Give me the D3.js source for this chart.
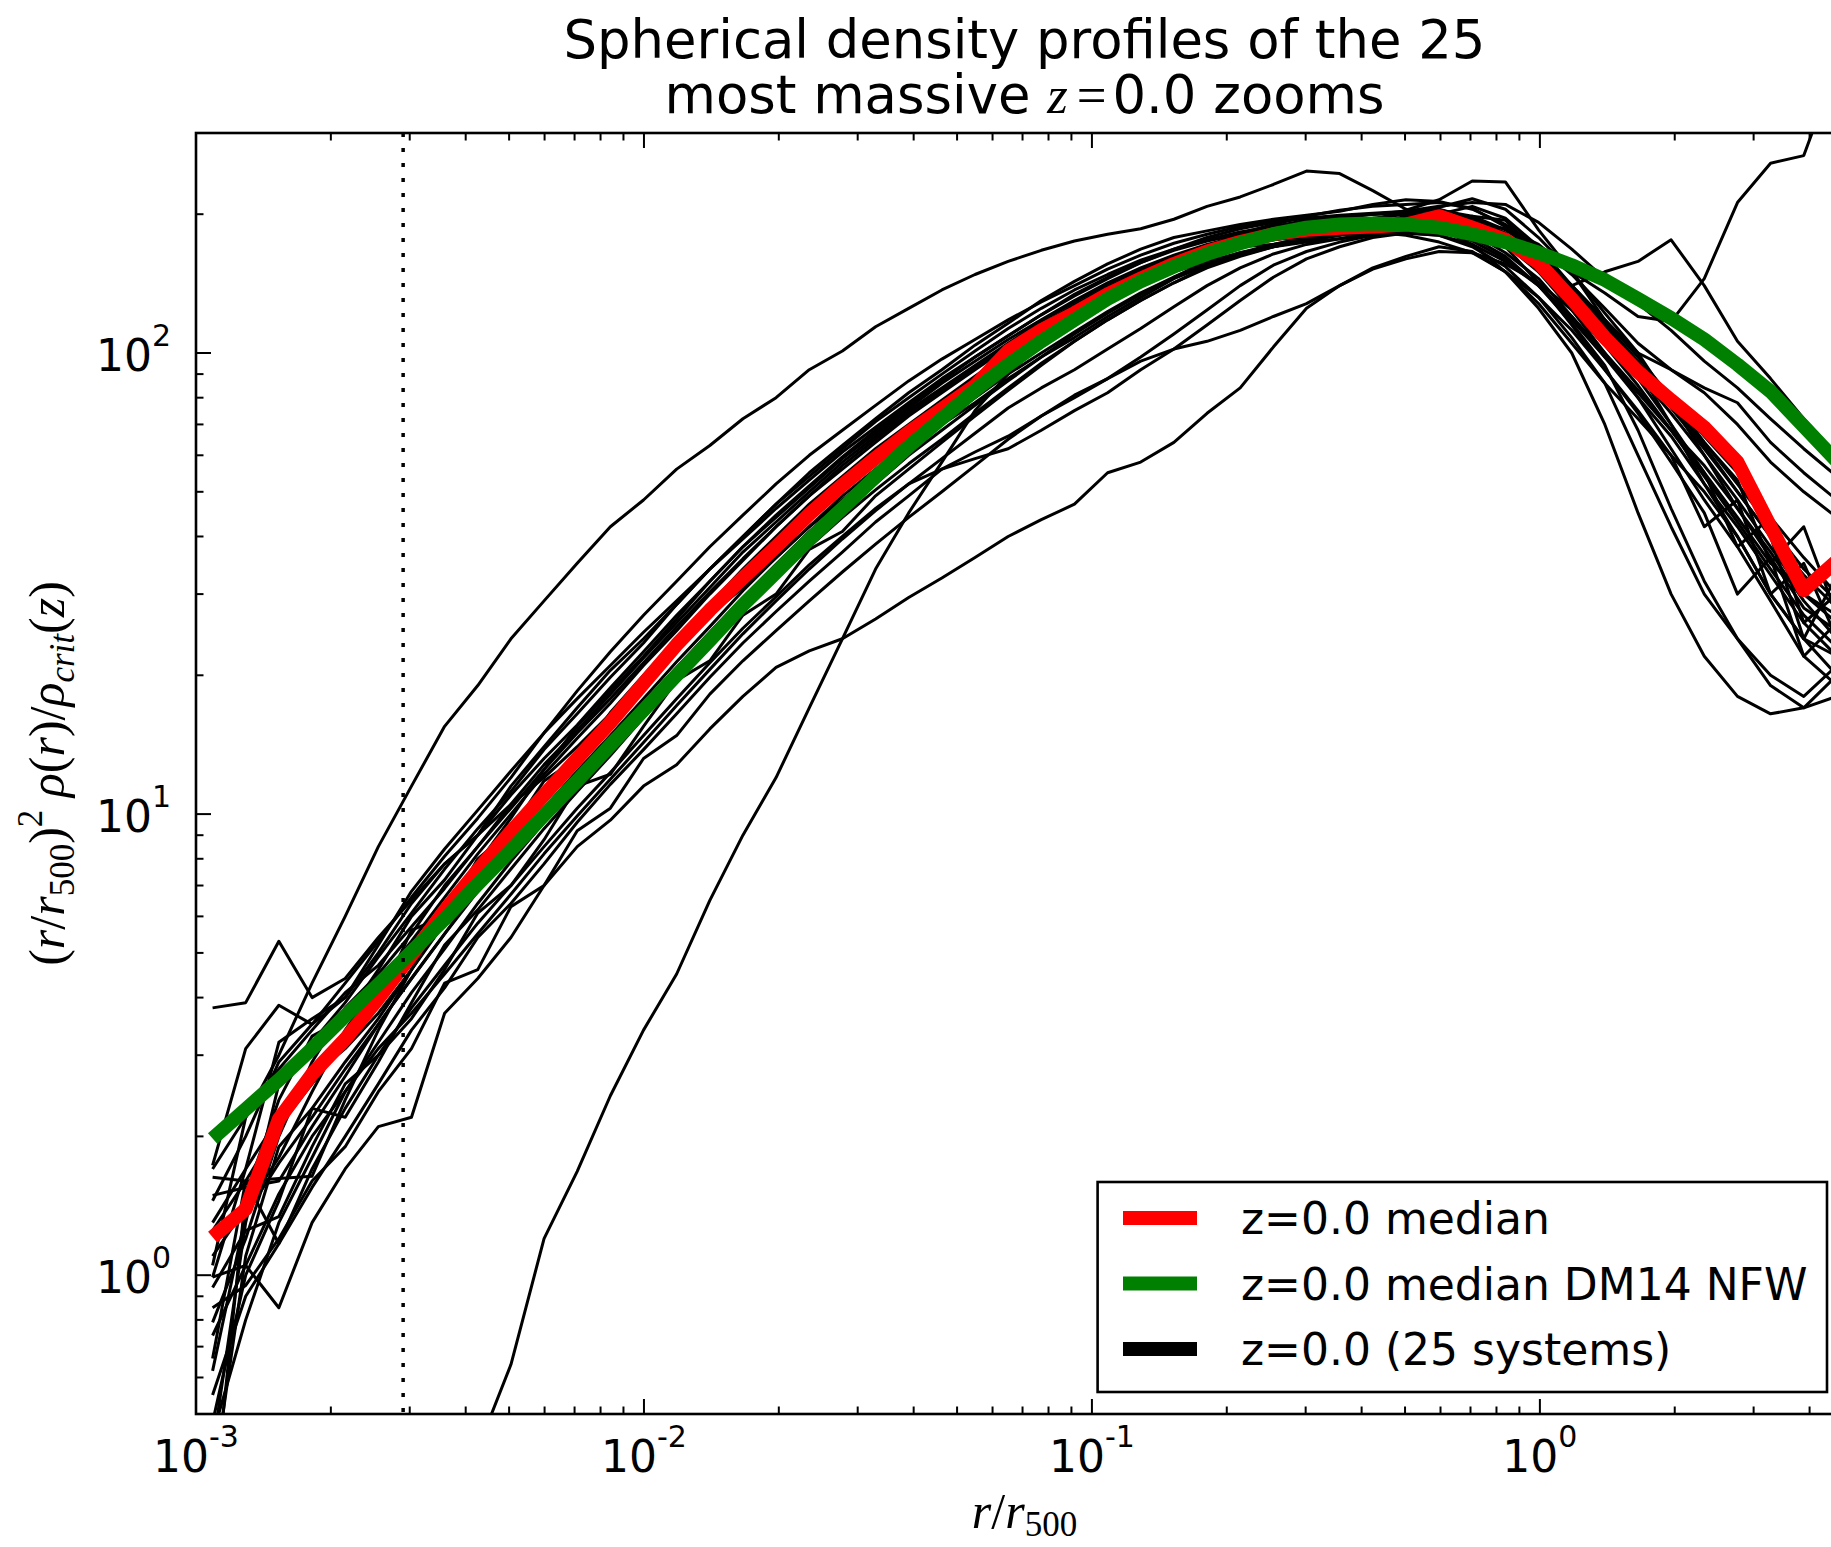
<html>
<head>
<script src="https://d3js.org/d3.v7.min.js"></script>
<style>
body { margin: 0; background: white; }
</style>
</head>
<body>
<script>
// radial bins (r / r500), bin centres
var radius = [0.001089, 0.001291, 0.001531, 0.001816, 0.002153, 0.002553, 0.003027, 0.003589, 0.004256, 0.005047,
  0.005984, 0.007096, 0.008414, 0.009977, 0.01183, 0.01403, 0.01663, 0.01972, 0.02339, 0.02773,
  0.03289, 0.03899, 0.04624, 0.05483, 0.06501, 0.07709, 0.09141, 0.1084, 0.1285, 0.1524,
  0.1807, 0.2143, 0.2541, 0.3013, 0.3573, 0.4236, 0.5023, 0.5957, 0.7063, 0.8375,
  0.9931, 1.178, 1.396, 1.656, 1.963, 2.328, 2.761, 3.273, 3.882, 4.603];

var median = [1.21, 1.39, 2.18, 2.73, 3.25, 3.98, 4.94, 6.17, 7.56, 9.16,
  11.0, 13.2, 15.8, 19.2, 23.3, 27.7, 32.5, 38, 44.7, 51.7,
  59.2, 67.3, 75.6, 84.9, 101, 112, 122, 134, 145, 156,
  166, 174, 181, 185, 187, 188, 190, 198, 187, 176,
  157, 131, 108, 91, 79, 69, 58, 42, 30.6, 35.4];

var nfw = [1.98, 2.29, 2.65, 3.10, 3.65, 4.27, 5.03, 5.92, 7.05, 8.35,
  9.94, 11.8, 14.1, 16.8, 20.0, 23.8, 28.4, 33.4, 39.4, 46.0,
  53.9, 62.7, 72.1, 83.0, 94.3, 106, 118, 131, 143, 154,
  164, 173, 181, 187, 190, 191, 190, 187, 181, 174,
  165, 155, 144, 131, 119, 107, 94.4, 82.5, 69.3, 58.2];

// the 25 individual systems
var sys01 = [1.7, 2.2, 3.0, 4.3, 6.0, 8.5, 11.5, 15.5, 19, 24, 29, 35, 42, 48, 56, 63, 72, 80, 92, 101,
  114, 125, 137, 148, 158, 167, 175, 181, 186, 195, 208, 218, 232, 248, 245, 225, 205, 195, 188, 178,
  160, 135, 112, 95, 80, 66, 55, 44, 36, 30];
var sys02 = [3.8, 3.9, 5.3, 4.0, 4.4, 5.4, 6.5, 7.8, 9.0, 10.5, 12, 14, 16.5, 19.5, 23, 27, 31, 36, 42, 48,
  55, 62, 70, 78, 88, 98, 108, 120, 132, 145, 155, 163, 170, 176, 180, 183, 186, 184, 175, 160,
  140, 118, 98, 82, 68, 57, 46, 37, 29, 24];
var sys03 = [null, null, null, null, null, null, null, 0.3, 0.42, 0.64, 1.2, 1.68, 2.45, 3.4, 4.5, 6.5, 9.0, 12, 17, 24,
  34, 45, 58, 75, 90, 105, 120, 134, 147, 158, 168, 176, 182, 186, 190, 193, 195, 192, 182, 165,
  145, 120, 98, 80, 66, 52, 42, 33, 26, 22];
var sys04 = [0.99, 1.05, 0.85, 1.3, 1.7, 2.1, 2.2, 3.7, 4.4, 5.4, 7.0, 8.5, 9.7, 11.5, 12.8, 15.3, 18, 20.8, 22.6, 24,
  26.5, 29.5, 32.5, 36, 40, 43.5, 47, 55, 58, 64, 74, 84, 103, 125, 140, 153, 162, 170, 166, 150,
  128, 105, 86, 72, 60, 50, 40, 30, 24, 20];
var sys05 = [1.45, 2.0, 2.9, 3.5, 4.3, 5.3, 6.6, 8.1, 9.8, 12, 15, 18.5, 22.5, 27, 32, 38, 44.5, 52, 60, 68,
  77, 87, 97, 107, 118, 129, 140, 152, 163, 173, 181, 188, 193, 196, 198, 200, 202, 204, 198, 185,
  165, 140, 118, 98, 80, 64, 52, 42, 34, 29];
var sys06 = [0.99, 1.7, 3.2, 3.6, 4.0, 5.0, 6.4, 7.8, 9.0, 11.5, 14, 17, 20.5, 24, 28.5, 34, 40, 47, 55, 63,
  72, 82, 92, 104, 116, 130, 143, 156, 168, 178, 184, 190, 195, 199, 203, 210, 215, 213, 205, 190,
  170, 148, 125, 105, 92, 82, 70, 58, 50, 44];
var sys07 = [0.42, 1.3, 2.6, 3.2, 3.9, 4.9, 6.1, 7.6, 9.3, 11.2, 13.8, 16.5, 19.8, 23.5, 28.5, 34, 40, 47, 54, 62,
  71, 80, 90, 101, 113, 125, 137, 148, 159, 168, 176, 183, 188, 191, 193, 196, 200, 207, 216, 205,
  178, 150, 122, 100, 78, 60, 46, 36, 28, 25];
var sys08 = [1.63, 1.6, 1.62, 1.64, 2.4, 3.4, 4.6, 6.2, 7.8, 9.8, 12.5, 15.5, 18.5, 22, 26.5, 32, 38, 44.5, 51.5, 59.5,
  68, 77, 87, 98, 109, 121, 134, 146, 157, 167, 175, 181, 185, 188, 190, 194, 204, 215, 236, 235,
  185, 150, 118, 92, 70, 52, 40, 30, 24, 22];
var sys09 = [0.3, 1.5, 2.4, 3.3, 3.6, 4.6, 6.0, 7.2, 9.0, 11, 13.2, 15.6, 18.8, 22.5, 27, 32, 38, 44, 51, 59,
  67, 76, 86, 96, 107, 118, 130, 142, 153, 163, 172, 179, 184, 186, 184, 183, 188, 196, 190, 170,
  142, 115, 92, 75, 60, 42, 48, 30, 35, 24];
var sys10 = [0.79, 1.2, 2.0, 2.9, 3.8, 4.5, 5.5, 7.0, 8.5, 10.5, 12.8, 15.2, 18.2, 21.8, 26, 31, 37, 43, 50, 58,
  66, 75, 84, 94, 105, 117, 129, 141, 152, 162, 170, 176, 180, 182, 183, 186, 192, 200, 208, 196,
  170, 140, 110, 88, 70, 55, 44, 35, 30, 27];
var sys11 = [1.1, 1.4, 1.8, 2.5, 3.4, 4.3, 5.3, 6.6, 8.2, 10, 12.2, 14.6, 17.4, 21, 25, 30, 35.5, 42, 49, 56,
  64, 73, 82, 92, 103, 115, 127, 139, 150, 160, 170, 180, 188, 194, 198, 200, 201, 200, 190, 172,
  150, 128, 108, 90, 74, 60, 48, 38, 30, 26];
var sys12 = [0.66, 1.6, 2.1, 2.6, 3.2, 3.9, 5.6, 6.0, 8.0, 9.2, 11.8, 13.2, 16.6, 20, 24, 28.5, 34, 40, 47, 54,
  62, 70, 79, 89, 100, 112, 124, 136, 148, 158, 166, 170, 172, 175, 180, 190, 198, 202, 195, 178,
  155, 132, 110, 92, 76, 62, 50, 40, 33, 28];
var sys13 = [0.35, 1.1, 1.9, 2.3, 2.9, 3.6, 4.6, 5.8, 7.2, 8.9, 10.8, 13, 15.6, 18.8, 22.5, 27, 32, 37.5, 44, 51,
  59, 67, 76, 86, 97, 108, 120, 132, 144, 155, 164, 171, 176, 179, 181, 182, 182, 180, 172, 158,
  140, 120, 100, 83, 68, 55, 38, 44, 26, 30];
var sys14 = [1.49, 1.55, 1.6, 2.1, 2.7, 3.5, 4.4, 5.5, 6.9, 8.5, 10.3, 12.4, 14.8, 17.8, 21.4, 25.5, 30.5, 36, 42, 49,
  56, 64, 73, 83, 94, 105, 117, 129, 141, 152, 162, 170, 176, 181, 186, 190, 192, 194, 192, 186,
  172, 150, 135, 120, 117, 145, 212, 258, 268, 420];
var sys15 = [0.74, 1.05, 1.5, 2.0, 2.5, 3.2, 4.1, 5.1, 6.4, 7.9, 9.6, 11.5, 13.8, 16.6, 20, 24, 28.5, 33.5, 39, 45.5,
  52, 60, 68, 77, 87, 98, 110, 122, 134, 146, 158, 172, 182, 190, 196, 200, 203, 205, 196, 178,
  150, 124, 100, 80, 62, 48, 38, 29, 22, 19];
var sys16 = [0.94, 1.25, 1.34, 1.9, 2.6, 3.0, 3.6, 4.6, 6.1, 7.0, 8.8, 11.5, 12.2, 15.5, 19.5, 21.5, 27, 30, 37.5, 41,
  49, 56, 64, 73, 83, 94, 106, 118, 130, 142, 153, 162, 170, 176, 182, 188, 195, 200, 196, 182,
  160, 136, 114, 94, 78, 64, 53, 35, 42, 27];
var sys17 = [0.55, 0.9, 1.17, 1.7, 2.3, 3.0, 3.8, 4.7, 5.8, 7.0, 8.5, 10.3, 12.3, 14.8, 17.8, 21.3, 25.3, 29.6, 34.7, 40,
  46, 52, 59, 67, 76, 84, 92, 102, 113, 126, 140, 153, 164, 172, 177, 182, 186, 190, 188, 178,
  160, 138, 116, 96, 78, 63, 50, 40, 24, 33];
var sys18 = [1.25, 1.6, 1.17, 1.55, 2.0, 2.6, 3.4, 4.2, 5.4, 6.4, 7.8, 9.6, 11.6, 13.8, 16.5, 19.8, 23.5, 27.5, 32, 37,
  43, 49, 56, 61, 66, 73, 80, 88, 98, 110, 124, 140, 155, 166, 174, 180, 184, 186, 178, 162,
  140, 116, 94, 68, 46, 32, 24, 20, 18, 21];
var sys19 = [0.85, 0.95, 1.2, 1.6, 1.9, 2.5, 3.1, 4.3, 4.6, 6.3, 7.0, 9.2, 10.3, 13.2, 14.8, 18.2, 21.5, 25, 29, 33.5,
  38.5, 44, 50, 57, 65, 73, 81, 88, 96, 102, 106, 112, 120, 128, 140, 152, 160, 166, 165, 156,
  142, 124, 104, 85, 68, 54, 43, 34, 27, 23];
var sys20 = [0.62, 1.35, 1.75, 2.2, 2.8, 3.5, 4.4, 5.5, 6.8, 8.3, 10.1, 12.1, 14.5, 17.4, 20.8, 24.8, 29.5, 34.8, 41, 47.5,
  55, 63, 71, 80, 90, 100, 111, 123, 135, 146, 156, 165, 172, 178, 183, 188, 190, 186, 172, 150,
  125, 100, 70, 45, 30, 22, 18, 16.5, 17, 20];
var sys21 = [1.3, 1.7, 2.2, 2.7, 3.1, 3.7, 4.6, 5.9, 7.4, 9.1, 11.2, 13.5, 16.2, 19.4, 23.2, 27.6, 32.5, 38, 44.5, 51.5,
  59, 67, 76, 86, 96, 107, 118, 129, 140, 150, 158, 165, 170, 174, 177, 180, 185, 192, 198, 194,
  165, 140, 150, 158, 176, 140, 106, 88, 72, 60];
var sys22 = [1.05, 2.2, 2.8, 3.4, 4.1, 4.7, 5.7, 6.9, 8.5, 10.3, 12.5, 15, 17.8, 21.3, 25.5, 30.3, 35.8, 42, 49, 57,
  65, 74, 83, 93, 104, 115, 127, 139, 150, 160, 170, 182, 190, 198, 204, 208, 210, 212, 206, 188,
  165, 140, 118, 100, 92, 84, 78, 64, 55, 48];
var sys23 = [0.48, 1.0, 1.45, 2.3, 2.2, 2.9, 3.9, 5.2, 6.2, 7.6, 9.3, 11.2, 13.4, 16.2, 19.4, 23.2, 27.6, 32.5, 38, 44,
  50.5, 57.5, 65, 74, 84, 95, 106, 118, 130, 142, 154, 164, 172, 178, 182, 183, 180, 174, 165, 150,
  132, 112, 92, 74, 58, 45, 30, 36, 22, 26];
var sys24 = [1.73, 3.1, 3.85, 3.5, 4.0, 5.2, 6.8, 8.4, 10.2, 12.4, 15, 17.8, 21, 24.8, 29, 34, 39.5, 46, 53, 61,
  69, 78, 88, 98, 109, 121, 133, 145, 157, 168, 178, 186, 192, 196, 199, 201, 203, 208, 212, 210,
  192, 168, 145, 128, 112, 96, 84, 72, 62, 54];
var sys25 = [0.45, 0.8, 1.3, 1.8, 2.5, 3.1, 3.7, 4.5, 5.5, 6.7, 8.2, 9.9, 11.9, 14.3, 17.2, 20.6, 24.6, 29, 34, 39.5,
  45.5, 52, 56, 59, 62, 68, 75, 82, 92, 102, 115, 130, 146, 160, 170, 178, 182, 180, 170, 154,
  132, 108, 86, 60, 42, 30, 24, 19, 17, 18];

var systems = [sys01, sys02, sys03, sys04, sys05, sys06, sys07, sys08, sys09, sys10, sys11, sys12, sys13,
  sys14, sys15, sys16, sys17, sys18, sys19, sys20, sys21, sys22, sys23, sys24, sys25];

var legendLabels = ["z=0.0 median", "z=0.0 median DM14 NFW", "z=0.0 (25 systems)"];
var legendColors = ["red", "green", "black"];
var xMajor = [1e-3, 1e-2, 1e-1, 1];
var xMajorExp = ["-3", "-2", "-1", "0"];
var yMajor = [1, 10, 100];
var yMajorExp = ["0", "1", "2"];
var resolutionR = 0.0029;

var width = 1831;
var height = 1547;
var plot = {left: 196, top: 133, right: 1853, bottom: 1414};

var x = d3.scaleLog().domain([1e-3, 5]).range([plot.left, plot.right]);
var y = d3.scaleLog().domain([0.5, 300]).range([plot.bottom, plot.top]);

var svg = d3.select("body").append("svg")
    .attr("width", width)
    .attr("height", height)
    .style("font-family", "'DejaVu Sans', sans-serif");

svg.append("rect").attr("width", width).attr("height", height).attr("fill", "white");

svg.append("clipPath").attr("id", "clip")
  .append("rect")
    .attr("x", plot.left).attr("y", plot.top)
    .attr("width", plot.right - plot.left).attr("height", plot.bottom - plot.top);

var line = d3.line()
    .defined(function(d) { return d != null; })
    .x(function(d, i) { return x(radius[i]); })
    .y(function(d) { return y(d); });

var lines = svg.append("g").attr("clip-path", "url(#clip)");

lines.selectAll(".sys")
  .data(systems)
  .enter().append("path")
    .attr("class", "sys")
    .attr("d", line)
    .attr("fill", "none")
    .attr("stroke", "black")
    .attr("stroke-width", 3)
    .attr("stroke-linejoin", "round");

lines.append("path")
    .attr("d", line(median))
    .attr("fill", "none")
    .attr("stroke", "red")
    .attr("stroke-width", 14)
    .attr("stroke-linejoin", "round");

lines.append("path")
    .attr("d", line(nfw))
    .attr("fill", "none")
    .attr("stroke", "green")
    .attr("stroke-width", 14)
    .attr("stroke-linejoin", "round");

// resolution limit
lines.append("line")
    .attr("x1", x(resolutionR)).attr("x2", x(resolutionR))
    .attr("y1", plot.top).attr("y2", plot.bottom)
    .attr("stroke", "black")
    .attr("stroke-width", 3.5)
    .attr("stroke-dasharray", "4,11");

// ticks, pointing inward on all sides
var isMajor = function(v) { return Math.abs(Math.log10(v) - Math.round(Math.log10(v))) < 1e-6; };
var ticks = svg.append("g").attr("stroke", "black").attr("stroke-width", 2);

x.ticks().forEach(function(v) {
  var len = isMajor(v) ? 15 : 7.5;
  var px = x(v);
  ticks.append("line").attr("x1", px).attr("x2", px).attr("y1", plot.bottom).attr("y2", plot.bottom - len);
  ticks.append("line").attr("x1", px).attr("x2", px).attr("y1", plot.top).attr("y2", plot.top + len);
});
y.ticks().forEach(function(v) {
  var len = isMajor(v) ? 15 : 7.5;
  var py = y(v);
  ticks.append("line").attr("x1", plot.left).attr("x2", plot.left + len).attr("y1", py).attr("y2", py);
  ticks.append("line").attr("x1", plot.right).attr("x2", plot.right - len).attr("y1", py).attr("y2", py);
});

// frame
svg.append("rect")
    .attr("x", plot.left).attr("y", plot.top)
    .attr("width", plot.right - plot.left).attr("height", plot.bottom - plot.top)
    .attr("fill", "none")
    .attr("stroke", "black")
    .attr("stroke-width", 2.6);

// tick labels
xMajor.forEach(function(v, i) {
  var t = svg.append("text")
      .attr("x", x(v)).attr("y", 1472)
      .attr("text-anchor", "middle")
      .attr("font-size", 44);
  t.append("tspan").text("10");
  t.append("tspan").attr("dy", -25).attr("font-size", 30).text(xMajorExp[i]);
});
yMajor.forEach(function(v, i) {
  var t = svg.append("text")
      .attr("x", 171).attr("y", y(v) + 18)
      .attr("text-anchor", "end")
      .attr("font-size", 44);
  t.append("tspan").text("10");
  t.append("tspan").attr("dy", -25).attr("font-size", 30).text(yMajorExp[i]);
});

// axis labels
var serif = "'Liberation Serif', 'DejaVu Serif', serif";
var xl = svg.append("text")
    .attr("x", (plot.left + plot.right) / 2).attr("y", 1528)
    .attr("text-anchor", "middle")
    .style("font-family", serif)
    .attr("font-size", 50);
xl.append("tspan").attr("font-style", "italic").text("r");
xl.append("tspan").text("/");
xl.append("tspan").attr("font-style", "italic").text("r");
xl.append("tspan").attr("dy", 8).attr("font-size", 35).text("500");

var yl = svg.append("text")
    .attr("transform", "translate(64," + ((plot.top + plot.bottom) / 2) + ") rotate(-90)")
    .attr("text-anchor", "middle")
    .style("font-family", serif)
    .attr("font-size", 50);
yl.append("tspan").text("(");
yl.append("tspan").attr("font-style", "italic").text("r");
yl.append("tspan").text("/");
yl.append("tspan").attr("font-style", "italic").text("r");
yl.append("tspan").attr("dy", 10).attr("font-size", 35).text("500");
yl.append("tspan").attr("dy", -10).text(")");
yl.append("tspan").attr("dy", -22).attr("font-size", 35).text("2");
yl.append("tspan").attr("dy", 22).attr("font-style", "italic").text("\u00a0\u03c1");
yl.append("tspan").text("(");
yl.append("tspan").attr("font-style", "italic").text("r");
yl.append("tspan").text(")/");
yl.append("tspan").attr("font-style", "italic").text("\u03c1");
yl.append("tspan").attr("dy", 10).attr("font-size", 35).attr("font-style", "italic").text("crit");
yl.append("tspan").attr("dy", -10).text("(");
yl.append("tspan").attr("font-style", "italic").text("z");
yl.append("tspan").text(")");

// title
var cx = (plot.left + plot.right) / 2;
svg.append("text")
    .attr("x", cx).attr("y", 58)
    .attr("text-anchor", "middle")
    .attr("font-size", 52.8)
    .text("Spherical density profiles of the 25");
var t2 = svg.append("text")
    .attr("x", cx).attr("y", 113)
    .attr("text-anchor", "middle")
    .attr("font-size", 52.8);
t2.append("tspan").text("most massive ");
t2.append("tspan").style("font-family", serif).attr("font-style", "italic").text("z");
t2.append("tspan").attr("dx", 9).style("font-family", serif).text("=");
t2.append("tspan").attr("dx", 6).text("0.0 zooms");

// legend
var legend = svg.append("g");
legend.append("rect")
    .attr("x", 1097.6).attr("y", 1182)
    .attr("width", 729.4).attr("height", 210)
    .attr("fill", "white")
    .attr("stroke", "black")
    .attr("stroke-width", 2.6);
var rows = legend.selectAll(".row")
  .data(legendLabels)
  .enter().append("g")
    .attr("class", "row")
    .attr("transform", function(d, i) { return "translate(0," + (1218 + i * 65.5) + ")"; });
rows.append("line")
    .attr("x1", 1123).attr("x2", 1197)
    .attr("stroke", function(d, i) { return legendColors[i]; })
    .attr("stroke-width", 14);
rows.append("text")
    .attr("x", 1241).attr("y", 16)
    .attr("font-size", 44)
    .text(function(d) { return d; });
</script>
</body>
</html>
